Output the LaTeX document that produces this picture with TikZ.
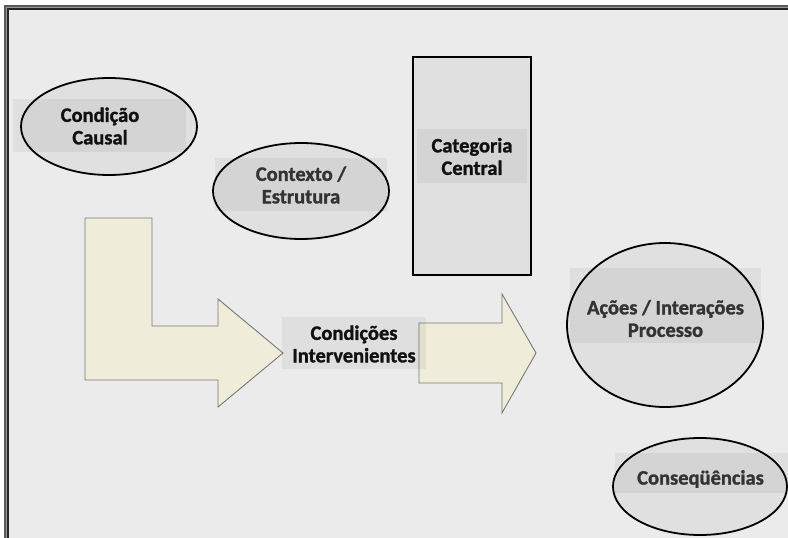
\documentclass[tikz,border=0pt]{standalone}
\usepackage{fontspec}
\setmainfont{Carlito}[BoldFeatures={FakeBold=1.3}]
\usetikzlibrary{shapes.geometric}
\definecolor{canvas}{HTML}{EBEBEB}
\definecolor{shapefill}{HTML}{E0E0E0}
\definecolor{arrowfill}{HTML}{EFEDD9}
\definecolor{arrowline}{HTML}{777777}
\definecolor{inktext}{HTML}{111111}
\tikzset{
  conceptoval/.style={ellipse, draw=black, line width=1.8pt, fill=shapefill, inner sep=0pt},
  conceptbox/.style={rectangle, draw=black, line width=1.8pt, fill=shapefill, inner sep=0pt},
  labelband/.style={rectangle, fill=black, fill opacity=0.05, inner sep=0pt},
  labeltext/.style={align=center, text=inktext, font=\bfseries\fontsize{20.5}{22.5}\selectfont, inner sep=0pt},
  flowarrow/.style={fill=arrowfill, draw=arrowline, line width=0.9pt, line join=miter}
}
\begin{document}
\begin{tikzpicture}[x=1pt, y=-1pt]
\useasboundingbox (0,0) rectangle (788,538);
% page and canvas
\fill[white] (0,0) rectangle (788,538);
\fill[canvas] (8,9) rectangle (788,538);
% double frame line at the top-left
\draw[line width=2pt, black!65] (5,540) -- (5,6) -- (790,6);
\draw[line width=1pt, black!40] (6.8,540) -- (6.8,7.8) -- (790,7.8);
\draw[line width=1.6pt, black!85] (8.2,540) -- (8.2,9.2) -- (790,9.2);

% bent arrow into the intervening conditions
\draw[flowarrow] (85,218) -- (152,218) -- (152,326) -- (218,326) -- (218,299)
  -- (283,353) -- (218,407) -- (218,380) -- (85,380) -- cycle;
% straight arrow towards actions / interactions
\draw[flowarrow] (419,323) -- (502,323) -- (502,294) -- (536,353)
  -- (502,413) -- (502,383) -- (419,383) -- cycle;

% shapes
\node[conceptoval, minimum width=176pt, minimum height=97pt] (causal) at (109,126.5) {};
\node[conceptoval, minimum width=176pt, minimum height=96pt] (contexto) at (301,191) {};
\node[conceptbox, minimum width=118pt, minimum height=218pt] (central) at (472,166) {};
\node[conceptoval, minimum width=196pt, minimum height=164pt] (acoes) at (665,325) {};
\node[conceptoval, minimum width=174pt, minimum height=97pt] (consequencias) at (700,486.5) {};

% label bands
\node[labelband, minimum width=173pt, minimum height=53pt] (causalband) at (99.5,125.5) {};
\node[labelband, minimum width=172pt, minimum height=53pt] (contextoband) at (301,184.5) {};
\node[labelband, minimum width=110pt, minimum height=54pt] (centralband) at (472,156) {};
\node[labelband, minimum width=144pt, minimum height=52pt] (intervband) at (354,343) {};
\node[labelband, minimum width=191pt, minimum height=75pt] (acoesband) at (665.5,305.5) {};
\node[labelband, minimum width=173pt, minimum height=40pt] (consband) at (701.5,473) {};

% labels
\node[labeltext] (causaltext) at (100,126) {Condição\\Causal};
\node[labeltext, text=black!80] (contextotext) at (301,185) {Contexto /\\Estrutura};
\node[labeltext] (centraltext) at (472,156.5) {Categoria\\Central};
\node[labeltext] (intervtext) at (354,344) {Condições\\Intervenientes};
\node[labeltext, text=black!80] (acoestext) at (665.5,318.5) {Ações / Interações\\Processo};
\node[labeltext, text=black!80] (constext) at (700.5,479) {Conseqüências};
\end{tikzpicture}
\end{document}
